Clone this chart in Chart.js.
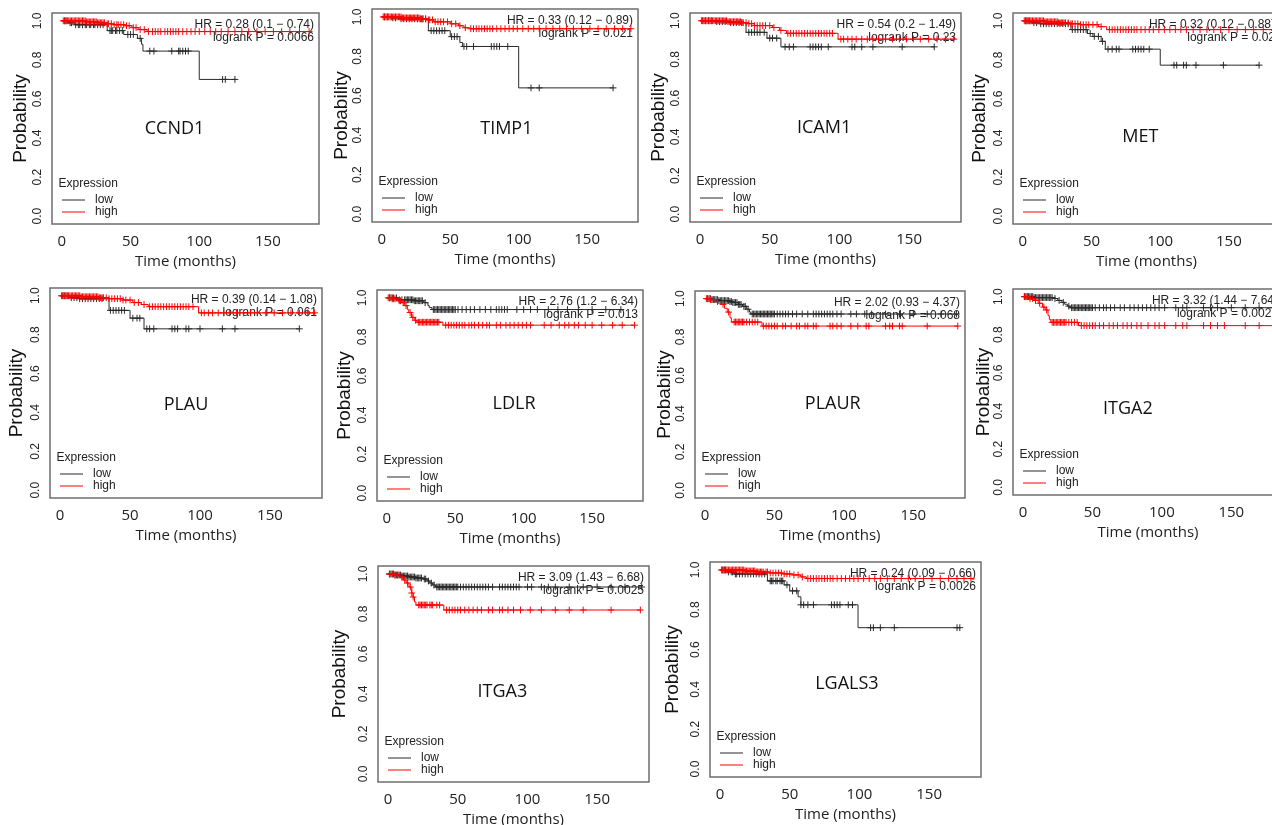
<!DOCTYPE html>
<html>
<head>
<meta charset="utf-8">
<script src="https://cdn.jsdelivr.net/npm/chart.js@4.4.1/dist/chart.umd.min.js"></script>
<style>
  html, body { margin: 0; padding: 0; background: #fff; }
  body { position: relative; width: 1272px; height: 825px; overflow: hidden; }
  canvas { position: absolute; }
</style>
</head>
<body>
<script>
// --- DATA ---
const xTicks = [0, 50, 100, 150];
const yTicks = [0, 0.2, 0.4, 0.6, 0.8, 1.0];
const groups = ['low', 'high'];
const genes = ['CCND1', 'TIMP1', 'ICAM1', 'MET', 'PLAU', 'LDLR', 'PLAUR', 'ITGA2', 'ITGA3', 'LGALS3'];
const hrLabels = [
  'HR = 0.28 (0.1 − 0.74)', 'HR = 0.33 (0.12 − 0.89)', 'HR = 0.54 (0.2 − 1.49)', 'HR = 0.32 (0.12 − 0.88)',
  'HR = 0.39 (0.14 − 1.08)', 'HR = 2.76 (1.2 − 6.34)', 'HR = 2.02 (0.93 − 4.37)', 'HR = 3.32 (1.44 − 7.64)',
  'HR = 3.09 (1.43 − 6.68)', 'HR = 0.24 (0.09 − 0.66)'
];
const pLabels = [
  'logrank P = 0.0066', 'logrank P = 0.021', 'logrank P = 0.23', 'logrank P = 0.02',
  'logrank P = 0.061', 'logrank P = 0.013', 'logrank P = 0.068', 'logrank P = 0.0021',
  'logrank P = 0.0025', 'logrank P = 0.0026'
];

// KM curves: [months, survival] after each drop, last pair = last follow-up. *Cens = censor times
const ccnd1Low = [[0, 1], [4, 0.99], [9, 0.98], [33, 0.95], [45, 0.93], [55, 0.91], [58, 0.88], [59, 0.845], [100, 0.70], [126, 0.70]];
const ccnd1LowCens = [2, 3, 6, 7, 10, 12, 13, 15, 17, 18, 20, 21, 23, 24, 26, 28, 30, 35, 36, 37, 39, 40, 42, 44, 48, 50, 52, 57, 64, 67, 80, 85, 86, 88, 90, 92, 117, 119, 126];
const ccnd1High = [[0, 1], [18, 0.995], [26, 0.99], [32, 0.985], [37, 0.98], [46, 0.975], [51, 0.965], [56, 0.955], [62, 0.945], [181, 0.945]];
const ccnd1HighCens = [1, 2, 3, 4, 5, 6, 7, 8, 9, 10, 11, 12, 13, 14, 15, 16, 17, 18, 19, 20, 21, 22, 23, 24, 25, 26, 27, 28, 29, 30, 31, 33, 34, 36, 38, 40, 41, 43, 45, 47, 49, 52, 54, 57, 60, 63, 66, 68, 70, 72, 75, 77, 79, 81, 83, 85, 88, 91, 94, 97, 100, 104, 108, 112, 116, 121, 126, 131, 136, 142, 148, 154, 160, 166, 173, 180];

const timp1Low = [[0, 1], [6, 0.995], [12, 0.99], [34, 0.93], [50, 0.90], [57, 0.87], [59, 0.85], [100, 0.64], [169, 0.64]];
const timp1LowCens = [2, 4, 8, 10, 14, 16, 18, 20, 22, 24, 26, 28, 30, 32, 36, 38, 40, 42, 44, 46, 51, 53, 55, 60, 62, 67, 80, 82, 84, 86, 92, 109, 115, 169];
const timp1High = [[0, 1], [15, 0.995], [28, 0.99], [33, 0.985], [38, 0.975], [50, 0.965], [56, 0.955], [60, 0.945], [64, 0.94], [182, 0.94]];
const timp1HighCens = [1, 2, 3, 4, 5, 6, 7, 8, 9, 10, 11, 12, 13, 14, 15, 16, 17, 18, 19, 20, 21, 22, 23, 24, 25, 26, 27, 28, 29, 30, 32, 34, 35, 37, 39, 41, 43, 45, 48, 51, 54, 57, 61, 65, 67, 69, 71, 73, 75, 77, 79, 81, 84, 87, 90, 93, 96, 99, 103, 107, 111, 115, 120, 125, 130, 135, 140, 146, 152, 158, 164, 170, 176, 182];

const icam1Low = [[0, 1], [10, 0.995], [20, 0.99], [33, 0.94], [48, 0.91], [58, 0.865], [168, 0.865]];
const icam1LowCens = [2, 4, 6, 8, 12, 14, 16, 18, 22, 24, 26, 28, 30, 35, 37, 39, 41, 43, 46, 50, 52, 55, 61, 64, 67, 79, 81, 83, 85, 87, 92, 109, 111, 116, 124, 145, 168];
const icam1High = [[0, 1], [20, 0.995], [30, 0.99], [34, 0.985], [39, 0.975], [52, 0.965], [57, 0.95], [62, 0.935], [99, 0.905], [182, 0.905]];
const icam1HighCens = [1, 2, 3, 4, 5, 6, 7, 8, 9, 10, 11, 12, 13, 14, 15, 16, 17, 18, 19, 20, 21, 22, 23, 24, 25, 26, 27, 28, 29, 30, 31, 33, 35, 37, 39, 41, 43, 45, 47, 50, 53, 58, 63, 65, 67, 69, 71, 73, 75, 77, 79, 81, 83, 85, 87, 89, 91, 93, 95, 101, 103, 106, 109, 112, 116, 120, 124, 128, 133, 138, 143, 148, 153, 158, 164, 170, 176, 182];

const metLow = [[0, 1], [6, 0.99], [12, 0.985], [35, 0.955], [47, 0.935], [51, 0.92], [57, 0.895], [60, 0.855], [100, 0.773], [172, 0.773]];
const metLowCens = [2, 3, 5, 8, 10, 13, 15, 17, 19, 21, 23, 25, 27, 29, 31, 33, 36, 38, 40, 42, 44, 46, 49, 52, 55, 58, 62, 65, 68, 70, 80, 82, 84, 86, 88, 92, 110, 112, 117, 119, 126, 146, 172];
const metHigh = [[0, 1], [16, 0.995], [26, 0.99], [34, 0.985], [42, 0.98], [55, 0.97], [61, 0.955], [182, 0.955]];
const metHighCens = [1, 2, 3, 4, 5, 6, 7, 8, 9, 10, 11, 12, 13, 14, 15, 16, 17, 18, 19, 20, 21, 22, 23, 24, 25, 26, 27, 28, 29, 30, 31, 33, 35, 36, 38, 40, 42, 44, 46, 48, 51, 54, 57, 63, 65, 67, 69, 71, 73, 75, 77, 79, 81, 83, 86, 89, 92, 95, 99, 103, 107, 111, 115, 119, 124, 129, 134, 139, 144, 150, 156, 162, 168, 175, 182];

const plauLow = [[0, 1], [6, 0.99], [14, 0.985], [35, 0.925], [50, 0.885], [60, 0.83], [171, 0.83]];
const plauLowCens = [2, 3, 5, 8, 10, 12, 14, 16, 18, 20, 22, 24, 26, 28, 30, 36, 38, 40, 42, 44, 46, 52, 55, 57, 62, 64, 67, 80, 82, 84, 90, 92, 100, 116, 125, 171];
const plauHigh = [[0, 1], [15, 0.995], [28, 0.99], [35, 0.985], [45, 0.978], [52, 0.965], [58, 0.955], [63, 0.944], [99, 0.912], [182, 0.912]];
const plauHighCens = [1, 2, 3, 4, 5, 6, 7, 8, 9, 10, 11, 12, 13, 14, 15, 16, 17, 18, 19, 20, 21, 22, 23, 24, 25, 26, 27, 28, 29, 30, 31, 33, 35, 37, 39, 41, 43, 45, 47, 50, 53, 56, 60, 64, 66, 68, 70, 72, 74, 76, 78, 80, 82, 84, 86, 88, 90, 92, 95, 101, 103, 106, 109, 113, 117, 121, 126, 131, 136, 141, 147, 153, 159, 165, 171, 177, 182];

const ldlrLow = [[0, 1], [8, 0.99], [20, 0.985], [27, 0.975], [30, 0.96], [31, 0.95], [33, 0.94], [172, 0.94]];
const ldlrLowCens = [2, 3, 4, 5, 7, 9, 11, 13, 14, 15, 16, 17, 18, 19, 20, 21, 22, 23, 24, 25, 26, 28, 34, 35, 36, 37, 38, 39, 40, 41, 42, 43, 44, 45, 46, 47, 48, 49, 50, 52, 55, 58, 61, 64, 68, 72, 76, 80, 82, 84, 86, 88, 95, 100, 105, 110, 118, 125, 132, 140, 150, 160, 171];
const ldlrHigh = [[0, 1], [3, 0.995], [8, 0.985], [11, 0.975], [13, 0.96], [15, 0.94], [16, 0.925], [18, 0.9], [20, 0.885], [22, 0.875], [41, 0.86], [181, 0.86]];
const ldlrHighCens = [1, 2, 4, 5, 6, 9, 10, 12, 14, 17, 19, 21, 23, 24, 25, 26, 27, 28, 29, 30, 31, 32, 33, 34, 35, 36, 37, 38, 43, 45, 47, 49, 51, 53, 55, 57, 60, 62, 64, 67, 70, 73, 75, 80, 83, 87, 90, 93, 96, 99, 102, 105, 115, 120, 126, 130, 133, 137, 140, 145, 150, 157, 165, 172, 181];

const plaurLow = [[0, 1], [5, 0.995], [10, 0.99], [18, 0.985], [20, 0.98], [24, 0.97], [27, 0.96], [30, 0.945], [32, 0.93], [33, 0.92], [181, 0.92]];
const plaurLowCens = [2, 3, 4, 5, 6, 7, 8, 9, 10, 11, 12, 13, 14, 15, 16, 17, 18, 19, 20, 21, 22, 23, 24, 25, 26, 28, 29, 31, 34, 35, 36, 37, 38, 39, 40, 41, 42, 43, 44, 45, 46, 47, 48, 49, 50, 52, 54, 56, 58, 60, 63, 66, 70, 74, 78, 80, 82, 84, 86, 88, 90, 92, 95, 98, 105, 109, 115, 120, 130, 140, 150, 160, 170, 181];
const plaurHigh = [[0, 1], [3, 0.995], [8, 0.985], [12, 0.97], [14, 0.95], [16, 0.93], [18, 0.9], [19, 0.878], [41, 0.857], [182, 0.857]];
const plaurHighCens = [1, 2, 4, 6, 9, 13, 17, 21, 22, 23, 24, 25, 26, 27, 28, 30, 32, 34, 36, 38, 42, 44, 46, 48, 50, 52, 56, 58, 62, 66, 68, 72, 74, 78, 80, 90, 92, 95, 98, 105, 110, 116, 118, 130, 133, 135, 140, 142, 160, 182];

const itga2Low = [[0, 1], [8, 0.995], [22, 0.99], [25, 0.98], [28, 0.97], [30, 0.96], [32, 0.95], [34, 0.942], [182, 0.942]];
const itga2LowCens = [1, 2, 3, 4, 5, 6, 7, 8, 9, 10, 11, 12, 13, 14, 15, 16, 17, 18, 19, 20, 21, 23, 26, 29, 33, 35, 36, 37, 38, 39, 40, 41, 42, 43, 44, 45, 46, 47, 48, 49, 50, 52, 55, 58, 60, 63, 66, 70, 73, 77, 80, 83, 86, 89, 92, 95, 98, 102, 110, 115, 118, 130, 135, 140, 150, 160, 170, 180];
const itga2High = [[0, 1], [4, 0.99], [8, 0.98], [11, 0.965], [14, 0.945], [16, 0.93], [18, 0.9], [19, 0.88], [20, 0.865], [40, 0.848], [182, 0.848]];
const itga2HighCens = [1, 3, 5, 7, 9, 12, 15, 17, 21, 22, 23, 24, 25, 26, 27, 28, 29, 30, 31, 33, 35, 37, 39, 42, 44, 46, 48, 50, 52, 55, 58, 62, 65, 68, 72, 75, 78, 82, 85, 90, 95, 98, 102, 110, 115, 118, 130, 135, 140, 145, 160, 170, 182];

const itga3Low = [[0, 1], [5, 0.995], [10, 0.99], [15, 0.985], [20, 0.98], [25, 0.975], [28, 0.965], [30, 0.955], [32, 0.945], [34, 0.935], [182, 0.935]];
const itga3LowCens = [1, 2, 3, 4, 5, 6, 7, 8, 9, 10, 11, 12, 13, 14, 15, 16, 17, 18, 19, 20, 21, 22, 23, 24, 26, 27, 29, 31, 33, 35, 36, 37, 38, 39, 40, 41, 42, 43, 44, 45, 46, 47, 48, 49, 50, 52, 54, 56, 58, 60, 62, 64, 66, 68, 70, 72, 75, 80, 82, 84, 86, 88, 90, 92, 94, 100, 103, 110, 115, 120, 130, 140, 150, 160, 170, 182];
const itga3High = [[0, 1], [5, 0.995], [8, 0.985], [11, 0.97], [13, 0.955], [15, 0.935], [17, 0.905], [18, 0.885], [19, 0.86], [20, 0.845], [40, 0.82], [181, 0.82]];
const itga3HighCens = [1, 3, 5, 7, 10, 12, 14, 16, 17, 18, 22, 23, 24, 25, 26, 27, 28, 30, 31, 32, 35, 37, 42, 44, 46, 48, 50, 52, 55, 58, 61, 64, 67, 72, 75, 80, 82, 86, 90, 95, 102, 110, 120, 130, 140, 160, 181];

const lgals3Low = [[0, 1], [5, 0.99], [10, 0.98], [34, 0.945], [46, 0.925], [50, 0.895], [56, 0.865], [58, 0.825], [99, 0.71], [172, 0.71]];
const lgals3LowCens = [2, 3, 4, 6, 8, 9, 11, 12, 14, 16, 18, 20, 22, 24, 26, 28, 30, 32, 36, 37, 38, 40, 41, 43, 44, 45, 48, 52, 55, 58, 60, 63, 67, 80, 82, 84, 86, 92, 95, 108, 110, 115, 125, 170, 172];
const lgals3High = [[0, 1], [18, 0.995], [26, 0.99], [35, 0.985], [45, 0.98], [52, 0.975], [58, 0.965], [62, 0.957], [180, 0.957]];
const lgals3HighCens = [1, 2, 3, 4, 5, 6, 7, 8, 9, 10, 11, 12, 13, 14, 15, 16, 17, 18, 19, 20, 21, 22, 23, 24, 25, 26, 27, 28, 29, 30, 31, 33, 34, 36, 38, 40, 42, 44, 46, 48, 50, 53, 56, 59, 63, 65, 67, 69, 71, 73, 75, 77, 79, 81, 84, 87, 90, 93, 96, 99, 103, 107, 111, 115, 120, 125, 130, 135, 140, 146, 152, 158, 164, 170, 175, 180];

const curves = {
  CCND1: [ccnd1Low, ccnd1LowCens, ccnd1High, ccnd1HighCens],
  TIMP1: [timp1Low, timp1LowCens, timp1High, timp1HighCens],
  ICAM1: [icam1Low, icam1LowCens, icam1High, icam1HighCens],
  MET: [metLow, metLowCens, metHigh, metHighCens],
  PLAU: [plauLow, plauLowCens, plauHigh, plauHighCens],
  LDLR: [ldlrLow, ldlrLowCens, ldlrHigh, ldlrHighCens],
  PLAUR: [plaurLow, plaurLowCens, plaurHigh, plaurHighCens],
  ITGA2: [itga2Low, itga2LowCens, itga2High, itga2HighCens],
  ITGA3: [itga3Low, itga3LowCens, itga3High, itga3HighCens],
  LGALS3: [lgals3Low, lgals3LowCens, lgals3High, lgals3HighCens]
};

// --- LAYOUT (page px for the plot box; tag = gene name centre in data units) ---
const panels = [
  { box: [52, 13, 319, 224], yGap: 31, tag: [82, 0.445] },
  { box: [372, 9, 638, 222], yGap: 30, tag: [91, 0.43] },
  { box: [690, 13, 961, 222], yGap: 31.5, tag: [89, 0.445] },
  { box: [1013, 13, 1280, 224], yGap: 33, tag: [85.5, 0.407] },
  { box: [50, 288, 322, 498], yGap: 33, tag: [90, 0.44] },
  { box: [377, 290, 643, 501], yGap: 32, tag: [93, 0.455] },
  { box: [695, 291, 965, 498], yGap: 30, tag: [92, 0.452] },
  { box: [1013, 289, 1283, 495], yGap: 29.5, tag: [75.5, 0.41] },
  { box: [378, 566, 649, 782], yGap: 38, tag: [82, 0.41] },
  { box: [710, 562, 981, 777], yGap: 37, tag: [91, 0.43] }
];
const PAD = { left: 52, top: 8, right: 8, bottom: 50 };
const LOW_COLOR = '#2b2b2b';
const HIGH_COLOR = '#ff0000';
const ARIAL = '"Liberation Sans", Arial, sans-serif';
const SEGOE = '"Open Sans", "Noto Sans", sans-serif';

// --- HELPERS ---
const survAt = (steps, t) => steps.reduce((s, [tt, v]) => (tt <= t ? v : s), steps[0][1]);
const lineSet = (steps, color, label) => ({
  label, data: steps.map(([x, y]) => ({ x, y })), borderColor: color, borderWidth: 1,
  stepped: 'before', pointRadius: 0, pointHoverRadius: 0, fill: false, showLine: true
});
const censSet = (steps, times, color) => ({
  data: times.map(t => ({ x: t, y: survAt(steps, t) })), showLine: false,
  pointStyle: 'cross', pointRadius: 3.4, pointHoverRadius: 3.4, borderColor: color, borderWidth: 1
});

// draws R-style extras: box, rotated y labels, gene tag, HR text, legend
const kmDecor = {
  id: 'kmDecor',
  beforeDatasetsDraw(chart, args, opts) {
    const { ctx, chartArea: a, scales: { x, y } } = chart;
    ctx.save();
    ctx.fillStyle = '#222';
    ctx.font = `12px ${ARIAL}`;
    ctx.textAlign = 'center';
    ctx.textBaseline = 'middle';
    yTicks.forEach(v => {
      ctx.save();
      ctx.translate(a.left - 14.5, y.getPixelForValue(v));
      ctx.rotate(-Math.PI / 2);
      ctx.fillText(v.toFixed(1), 0, 0);
      ctx.restore();
    });

    ctx.fillStyle = '#111';
    ctx.font = `18px ${SEGOE}`;
    ctx.fillText(opts.gene, x.getPixelForValue(opts.tag[0]), y.getPixelForValue(opts.tag[1]));

    ctx.fillStyle = '#222';
    ctx.font = `12px ${ARIAL}`;
    ctx.textAlign = 'right';
    ctx.fillText(opts.hr, a.right - 5, a.top + 12);
    ctx.fillText(opts.p, a.right - 5, a.top + 25);

    ctx.textAlign = 'left';
    ctx.fillText('Expression', a.left + 6.5, a.bottom - 40);
    [[groups[0], LOW_COLOR, 24], [groups[1], HIGH_COLOR, 12]].forEach(([name, col, dy]) => {
      ctx.strokeStyle = col;
      ctx.lineWidth = 1;
      ctx.beginPath();
      ctx.moveTo(a.left + 10, a.bottom - dy);
      ctx.lineTo(a.left + 33, a.bottom - dy);
      ctx.stroke();
      ctx.fillStyle = '#222';
      ctx.fillText(name, a.left + 43, a.bottom - dy);
    });
    ctx.restore();
  },
  afterDraw(chart) {
    const { ctx, chartArea: a } = chart;
    ctx.save();
    ctx.strokeStyle = '#6e6e6e';
    ctx.lineWidth = 1.5;
    ctx.strokeRect(a.left, a.top, a.right - a.left, a.bottom - a.top);
    ctx.restore();
  }
};

// --- RENDER ---
genes.forEach((gene, i) => {
  const p = panels[i];
  const [l, t, r, b] = p.box;
  const W = (r - l) + PAD.left + PAD.right;
  const H = (b - t) + PAD.top + PAD.bottom;
  const cv = document.createElement('canvas');
  cv.width = W;
  cv.height = H;
  cv.style.left = (l - PAD.left) + 'px';
  cv.style.top = (t - PAD.top) + 'px';
  cv.style.width = W + 'px';
  cv.style.height = H + 'px';
  document.body.appendChild(cv);

  const [lowSteps, lowCens, highSteps, highCens] = curves[gene];

  new Chart(cv, {
    type: 'line',
    data: {
      datasets: [
        censSet(highSteps, highCens, HIGH_COLOR),
        lineSet(highSteps, HIGH_COLOR, groups[1]),
        censSet(lowSteps, lowCens, LOW_COLOR),
        lineSet(lowSteps, LOW_COLOR, groups[0])
      ]
    },
    options: {
      responsive: false,
      animation: false,
      events: [],
      layout: { autoPadding: false, padding: { left: 0, top: PAD.top, right: PAD.right, bottom: 0 } },
      plugins: {
        legend: { display: false },
        tooltip: { enabled: false },
        kmDecor: { gene, tag: p.tag, hr: hrLabels[i], p: pLabels[i] }
      },
      scales: {
        x: {
          type: 'linear', min: -7.2, max: 187.2,
          afterBuildTicks: s => { s.ticks = xTicks.map(v => ({ value: v })); },
          afterFit: s => { s.height = PAD.bottom; },
          grid: { display: false },
          border: { display: false },
          ticks: { color: '#222', font: { family: SEGOE, size: 15 }, padding: 1, maxRotation: 0, autoSkip: false },
          title: { display: true, text: 'Time (months)', color: '#222', font: { family: SEGOE, size: 15 }, padding: { top: 0, bottom: 3 } }
        },
        y: {
          type: 'linear', min: -0.04, max: 1.04,
          afterBuildTicks: s => { s.ticks = yTicks.map(v => ({ value: v })); },
          afterFit: s => { s.width = PAD.left; },
          grid: { display: false },
          border: { display: false },
          ticks: { display: false },
          title: { display: true, text: 'Probability', color: '#111', font: { family: ARIAL, size: 19 }, padding: { top: PAD.left - p.yGap - 11.4, bottom: 0 } }
        }
      }
    },
    plugins: [kmDecor]
  });
});
</script>
</body>
</html>
